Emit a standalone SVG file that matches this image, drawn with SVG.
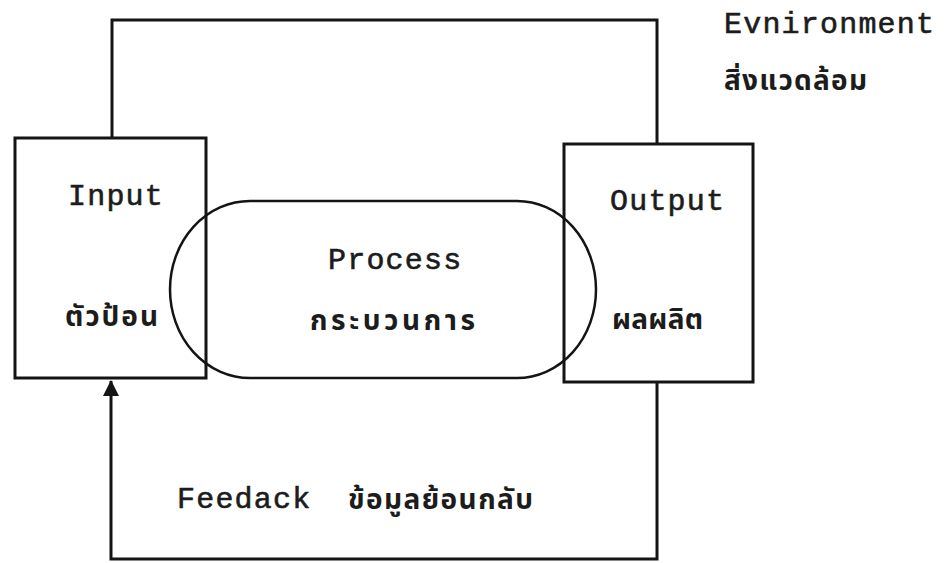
<svg xmlns="http://www.w3.org/2000/svg" width="946" height="563" viewBox="0 0 946 563">
<style>
.box{fill:none;stroke:#141414;stroke-width:3}
.proc{fill:none;stroke:#141414;stroke-width:2.5}
.line{fill:none;stroke:#141414;stroke-width:3}
.en{font-family:"Liberation Mono","Courier New",monospace;font-size:30px;fill:#1c1c1c;stroke:#1c1c1c;stroke-width:0.6;letter-spacing:1.2px}
.th{font-family:"Noto Sans Thai","Noto Sans","DejaVu Sans",sans-serif;font-size:28px;font-weight:bold;fill:#1c1c1c}
</style>
<defs>
<marker id="arr" markerWidth="16" markerHeight="16" refX="15" refY="8" orient="auto" markerUnits="userSpaceOnUse">
<path d="M0,0 L16,8 L0,16 Z" fill="#141414"/>
</marker>
</defs>
<rect width="946" height="563" fill="#ffffff"/>
<g id="connectors">
<path id="environment-frame" class="line" d="M112,138 V20 H657 V144"/>
<path id="feedback" class="line" d="M657,382 V559 H111 V381" marker-end="url(#arr)"/>
</g>
<g id="environment-label">
<text class="en" x="724" y="33">Evnironment</text>
<text class="th" x="724" y="90" textLength="143" lengthAdjust="spacing">สิ่งแวดล้อม</text>
</g>
<g id="input">
<rect class="box" x="15" y="138" width="191" height="240"/>
<text class="en" x="68" y="205">Input</text>
<text class="th" x="65" y="326" textLength="93" lengthAdjust="spacing">ตัวป้อน</text>
</g>
<g id="output">
<rect class="box" x="564" y="144" width="189" height="238"/>
<text class="en" x="610" y="210">Output</text>
<text class="th" x="612" y="329" textLength="91" lengthAdjust="spacing">ผลผลิต</text>
</g>
<g id="process">
<path class="proc" d="M250,201 H517 A79,88.5 0 0 1 517,378 H250 A80,88.5 0 0 1 250,201 Z"/>
<text class="en" x="328" y="269">Process</text>
<text class="th" x="310" y="330" textLength="165" lengthAdjust="spacing">กระบวนการ</text>
</g>
<g id="feedback-label">
<text class="en" x="177" y="508">Feedack</text>
<text class="th" x="348" y="509" textLength="185" lengthAdjust="spacing">ข้อมูลย้อนกลับ</text>
</g>
</svg>
